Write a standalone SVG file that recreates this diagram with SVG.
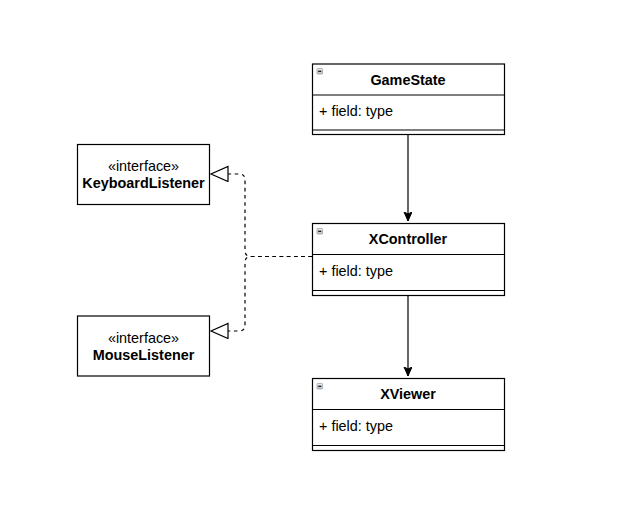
<svg xmlns="http://www.w3.org/2000/svg" width="640" height="505" viewBox="0 0 640 505">
<defs>
<linearGradient id="ig" x1="0" y1="0" x2="0" y2="1"><stop offset="0" stop-color="#f4f6f8"/><stop offset="1" stop-color="#b8c0c8"/></linearGradient>
<marker id="arr" markerWidth="10" markerHeight="10" refX="9" refY="4" orient="auto" markerUnits="userSpaceOnUse"><path d="M0,0 L9,4 L0,8 L2,4 Z" fill="#000" stroke="#000" stroke-width="1"/></marker>
<marker id="tri" markerWidth="20" markerHeight="18" refX="18" refY="8" orient="auto" markerUnits="userSpaceOnUse"><path d="M1,0.5 L18,8 L1,15.5 Z" fill="#fff" stroke="#000" stroke-width="1.2"/></marker>
<g id="icon"><rect x="0" y="0" width="5.5" height="5.5" rx="0.8" fill="url(#ig)" stroke="#8a949e" stroke-width="0.7"/><line x1="1.2" y1="2.75" x2="4.3" y2="2.75" stroke="#000" stroke-width="1.2"/></g>
</defs>
<style>
.box{fill:#fff;stroke:#000;stroke-width:1.2}
.ln{stroke:#000;stroke-width:1.2}
.t{font-family:"Liberation Sans",Arial,sans-serif;font-size:14.4px;fill:#000}
.b{font-weight:bold}
.c{text-anchor:middle}
.edge{fill:none;stroke:#000;stroke-width:1.2}
.dash{stroke-dasharray:3.6 3.6}
</style>
<rect width="640" height="505" fill="#fff"/>
<g id="connectors">
<path class="edge" d="M408,134.5 V221" marker-end="url(#arr)"/>
<path class="edge" d="M408,295.5 V376" marker-end="url(#arr)"/>
<path class="edge dash" d="M312,256.5 H251 Q245,256.5 245,250.5 V180 Q245,174 239,174 H211" marker-end="url(#tri)"/>
<path class="edge dash" d="M312,256.5 H251 Q245,256.5 245,262.5 V325 Q245,331 239,331 H211" marker-end="url(#tri)"/>
</g>
<g id="GameState">
<rect class="box" x="312.5" y="64" width="192" height="70.5"/>
<line class="ln" x1="312.5" y1="95" x2="504.5" y2="95"/>
<line class="ln" x1="312.5" y1="130" x2="504.5" y2="130"/>
<use href="#icon" x="317" y="68.5"/>
<text class="t b c" x="408" y="84.5">GameState</text>
<text class="t" x="319" y="116">+ field: type</text>
</g>
<g id="XController">
<rect class="box" x="312.5" y="223.5" width="192" height="72"/>
<line class="ln" x1="312.5" y1="254.5" x2="504.5" y2="254.5"/>
<line class="ln" x1="312.5" y1="290.5" x2="504.5" y2="290.5"/>
<use href="#icon" x="317" y="228.5"/>
<text class="t b c" x="408" y="244">XController</text>
<text class="t" x="319" y="275.5">+ field: type</text>
</g>
<g id="XViewer">
<rect class="box" x="312.5" y="378.5" width="192" height="72"/>
<line class="ln" x1="312.5" y1="409.5" x2="504.5" y2="409.5"/>
<line class="ln" x1="312.5" y1="445.5" x2="504.5" y2="445.5"/>
<use href="#icon" x="317" y="383.5"/>
<text class="t b c" x="408" y="399">XViewer</text>
<text class="t" x="319" y="430.5">+ field: type</text>
</g>
<g id="KeyboardListener">
<rect class="box" x="77.5" y="144.5" width="132" height="60"/>
<text class="t c" x="143.5" y="171">«interface»</text>
<text class="t b c" x="143.5" y="188">KeyboardListener</text>
</g>
<g id="MouseListener">
<rect class="box" x="77.5" y="316" width="132" height="60"/>
<text class="t c" x="143.5" y="343">«interface»</text>
<text class="t b c" x="143.5" y="360">MouseListener</text>
</g>
</svg>
